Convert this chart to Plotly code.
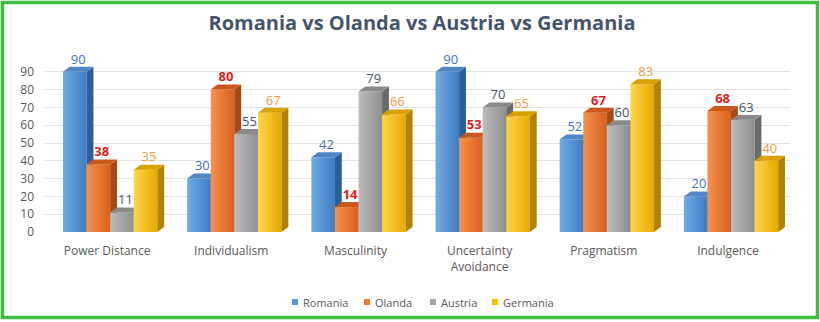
import plotly.graph_objects as go

categories = ["Power Distance", "Individualism", "Masculinity",
              "Uncertainty<br>Avoidance", "Pragmatism", "Indulgence"]
series_names = ["Romania", "Olanda", "Austria", "Germania"]
romania = [90, 30, 42, 90, 52, 20]
olanda = [38, 80, 14, 53, 67, 68]
austria = [11, 55, 79, 70, 60, 63]
germania = [35, 67, 66, 65, 83, 40]
values = [romania, olanda, austria, germania]

front_light = ["#72ACE3", "#F59250", "#BDBDBD", "#FFD54A"]
front_dark = ["#3E7CC2", "#D8601C", "#8E8E8E", "#E7A900"]
side_col = ["#2C5F99", "#A54A14", "#6A6A6A", "#B08200"]
top_col = ["#4F86C6", "#C9581A", "#8A8A8A", "#D9A100"]
legend_col = ["#5B9BD5", "#ED7D31", "#A5A5A5", "#FFC000"]
label_col = ["#4472C4", "#E0201B", "#44546A", "#F19A3E"]
label_bold = [False, True, False, False]

w = 0.19
start = -0.355
d = 0.055
dy = 2.8

fig = go.Figure()

for i, vals in enumerate(values):
    sx, sy, tx, ty = [], [], [], []
    for j, v in enumerate(vals):
        xl = j + start + i * w
        xr = xl + w
        fig.add_trace(go.Scatter(
            x=[xl, xr, xr, xl, xl], y=[0, 0, v, v, 0],
            mode="lines", line=dict(width=0), fill="toself",
            fillgradient=dict(type="horizontal",
                              colorscale=[[0, front_light[i]], [1, front_dark[i]]]),
            showlegend=False, hoverinfo="skip"))
        sx += [xr, xr + d, xr + d, xr, xr, None]
        sy += [0, dy, v + dy, v, 0, None]
        tx += [xl, xr, xr + d, xl + d, xl, None]
        ty += [v, v, v + dy, v + dy, v, None]
    fig.add_trace(go.Scatter(x=sx, y=sy, mode="lines", line=dict(width=0),
                             fill="toself", fillcolor=side_col[i],
                             showlegend=False, hoverinfo="skip"))
    fig.add_trace(go.Scatter(x=tx, y=ty, mode="lines", line=dict(width=0),
                             fill="toself", fillcolor=top_col[i],
                             showlegend=False, hoverinfo="skip"))

for i, vals in enumerate(values):
    xs = [j + start + i * w + w / 2 + d / 2 for j in range(len(vals))]
    ys = [v + dy for v in vals]
    txt = [f"<b>{v}</b>" if label_bold[i] else str(v) for v in vals]
    fig.add_trace(go.Scatter(x=xs, y=ys, mode="text", text=txt,
                             textposition="top center", cliponaxis=False,
                             textfont=dict(color=label_col[i], size=13,
                                           family="Open Sans"),
                             showlegend=False, hoverinfo="skip"))

L, R, T, B = 45, 30, 54, 90
pw = 820 - L - R
ph = 322 - T - B


def px_x(px):
    return (px - L) / pw


def px_y(py):
    return (T + ph - py) / ph


# manual compact legend (layout decoration in paper coordinates)
legend_sq_x = [295, 367, 433, 495]
shapes = [dict(type="rect", xref="paper", yref="paper",
               x0=px_x(2.5), x1=px_x(817.5), y0=px_y(317.5), y1=px_y(2.5),
               line=dict(color="#3DBE3D", width=3.5))]
annotations = []
for i, name in enumerate(series_names):
    cx = legend_sq_x[i]
    shapes.append(dict(type="rect", xref="paper", yref="paper",
                       x0=px_x(cx - 3), x1=px_x(cx + 3),
                       y0=px_y(305), y1=px_y(299),
                       fillcolor=legend_col[i], line=dict(width=0)))
    annotations.append(dict(xref="paper", yref="paper", x=px_x(cx + 6),
                            y=px_y(302), xanchor="left", yanchor="middle",
                            text=name, showarrow=False,
                            font=dict(family="Open Sans", size=11,
                                      color="#595959")))

fig.update_layout(
    width=820, height=322,
    margin=dict(l=L, r=R, t=T, b=B),
    paper_bgcolor="white", plot_bgcolor="white",
    showlegend=False,
    title=dict(text="<b>Romania vs Olanda vs Austria vs Germania</b>",
               x=422 / 820, xanchor="center", y=1 - 23 / 322, yanchor="middle",
               font=dict(family="Open Sans", size=20, color="#44546A")),
    xaxis=dict(range=[-0.5, 5.5], tickmode="array", tickvals=list(range(6)),
               ticktext=categories, showgrid=False, zeroline=False,
               showline=False, ticks="", ticklabelstandoff=10,
               tickfont=dict(family="Open Sans", size=12, color="#595959")),
    yaxis=dict(range=[0, 100], tickmode="array", tickvals=list(range(0, 100, 10)),
               showgrid=True, gridcolor="#E3E3E3", zeroline=False,
               showline=False, ticks="", ticklabelstandoff=10,
               tickfont=dict(family="Open Sans", size=12, color="#595959")),
    shapes=shapes,
    annotations=annotations,
)

fig.write_html("out.html")
